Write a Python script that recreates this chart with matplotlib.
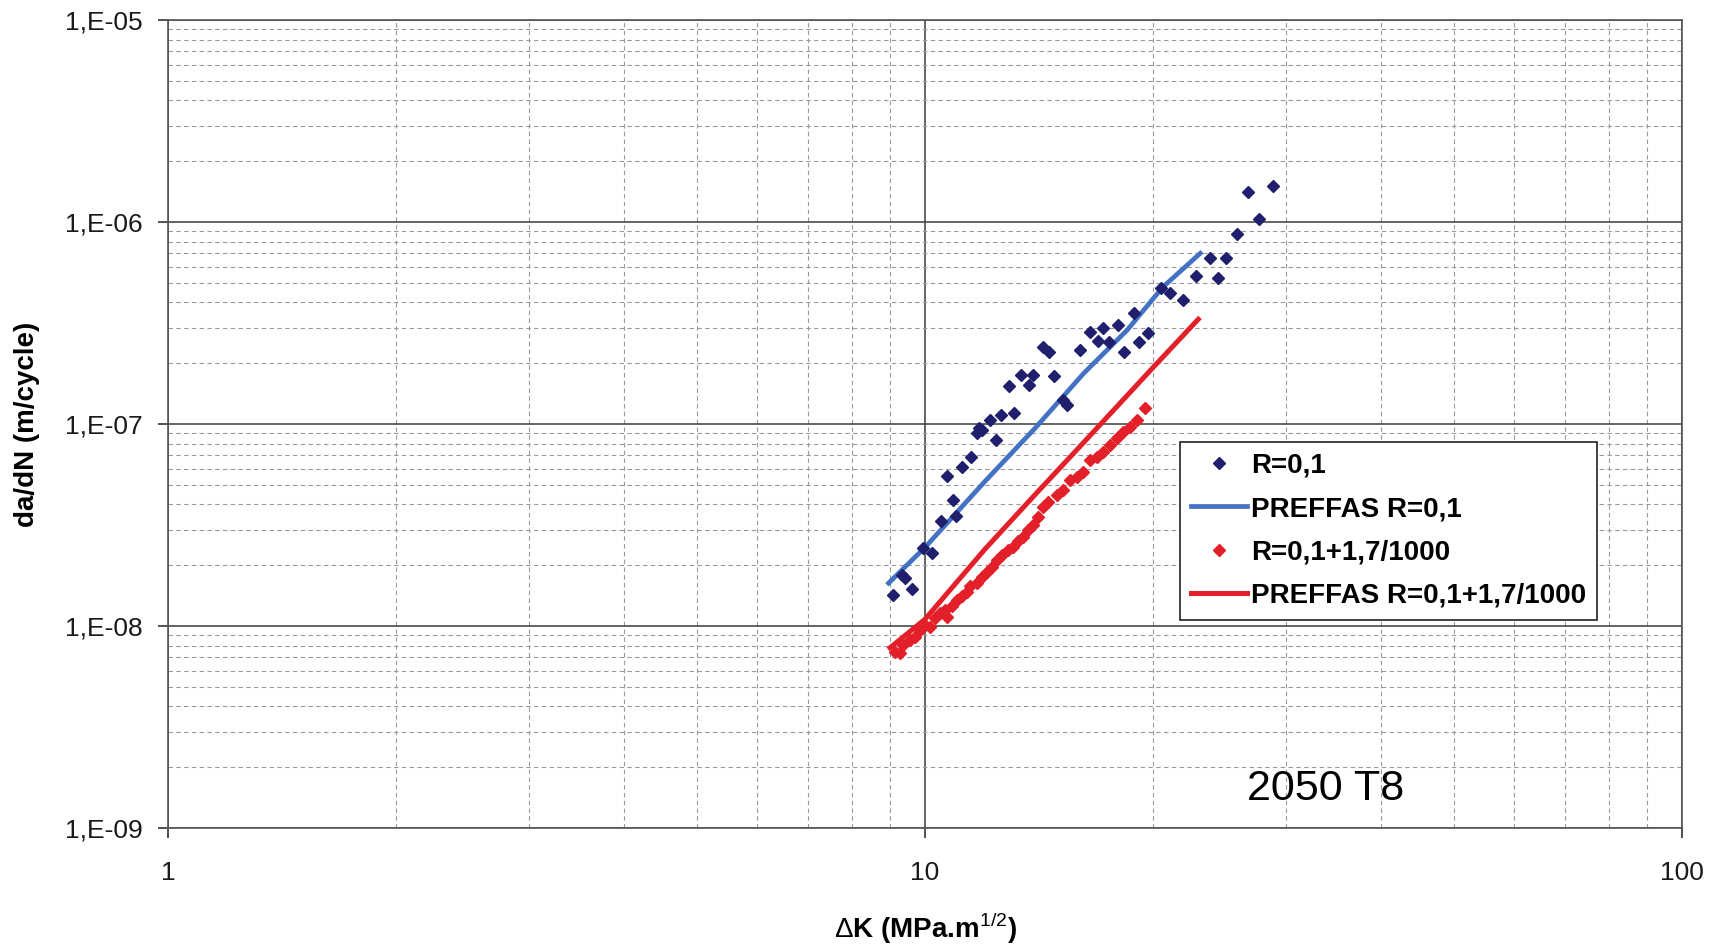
import matplotlib
matplotlib.use("Agg")
import matplotlib.pyplot as plt
from matplotlib.ticker import FixedLocator, FixedFormatter, LogLocator, NullFormatter

plt.rcParams['font.family'] = ['Liberation Sans', 'DejaVu Sans']
plt.rcParams['mathtext.fontset'] = 'custom'
plt.rcParams['mathtext.rm'] = 'Liberation Sans'
plt.rcParams['mathtext.bf'] = 'Liberation Sans:bold'

# crack growth data, R=0,1
dk_r01 = [28.8, 26.7, 27.6, 25.8, 23.8, 25.0, 22.8, 24.4, 20.5, 21.1, 21.9, 18.9,
          18.0, 17.2, 16.5, 16.9, 17.5, 19.7, 19.2, 18.3, 16.0, 14.3, 14.6, 14.8,
          13.4, 13.9, 13.7, 12.9, 15.2, 15.4, 13.1, 12.6, 12.2, 11.8, 11.9, 11.7,
          12.4, 11.5, 11.2, 10.7, 10.9, 10.5, 11.0, 9.95, 10.2, 9.31, 9.41, 9.60, 9.08]
dadn_r01 = [1.51e-6, 1.40e-6, 1.04e-6, 8.7e-7, 6.6e-7, 6.6e-7, 5.4e-7, 5.3e-7, 4.7e-7,
            4.47e-7, 4.1e-7, 3.56e-7, 3.1e-7, 2.98e-7, 2.86e-7, 2.58e-7, 2.56e-7, 2.83e-7,
            2.56e-7, 2.28e-7, 2.32e-7, 2.41e-7, 2.28e-7, 1.73e-7, 1.75e-7, 1.75e-7, 1.56e-7,
            1.54e-7, 1.32e-7, 1.24e-7, 1.14e-7, 1.11e-7, 1.05e-7, 9.5e-8, 9.3e-8, 9.06e-8,
            8.3e-8, 6.9e-8, 6.15e-8, 5.5e-8, 4.2e-8, 3.3e-8, 3.5e-8, 2.43e-8, 2.29e-8,
            1.79e-8, 1.73e-8, 1.53e-8, 1.42e-8]

# PREFFAS model, R=0,1
dk_pref01 = [8.95, 10.0, 12.0, 14.0, 16.2, 18.5, 20.6, 23.1]
dadn_pref01 = [1.63e-8, 2.45e-8, 5.2e-8, 9.6e-8, 1.78e-7, 2.92e-7, 4.75e-7, 7.0e-7]

# crack growth data, R=0,1+1,7/1000
dk_r017 = [9.13, 9.27, 9.36, 9.55, 9.70, 9.85, 10.0, 10.15, 10.31, 10.47, 10.63, 10.68,
           10.84, 11.01, 11.18, 11.35, 11.47, 11.70, 11.88, 12.06, 12.25, 12.43, 12.62,
           12.88, 13.08, 13.28, 13.49, 13.69, 13.90, 14.12, 14.33, 14.55, 14.93, 15.23,
           15.54, 15.86, 16.19, 16.52, 16.86, 17.20, 17.56, 17.92, 18.28, 18.66, 19.04, 19.53]
dadn_r017 = [7.46e-9, 7.32e-9, 8.05e-9, 8.53e-9, 8.86e-9, 9.55e-9, 1.01e-8, 9.93e-9,
             1.09e-8, 1.16e-8, 1.20e-8, 1.11e-8, 1.25e-8, 1.35e-8, 1.40e-8, 1.48e-8,
             1.57e-8, 1.63e-8, 1.75e-8, 1.86e-8, 1.97e-8, 2.12e-8, 2.25e-8, 2.38e-8,
             2.47e-8, 2.62e-8, 2.77e-8, 2.99e-8, 3.16e-8, 3.48e-8, 3.90e-8, 4.13e-8,
             4.45e-8, 4.71e-8, 5.28e-8, 5.48e-8, 5.81e-8, 6.64e-8, 6.89e-8, 7.29e-8,
             7.87e-8, 8.49e-8, 9.17e-8, 9.71e-8, 1.05e-7, 1.20e-7]

# PREFFAS model, R=0,1+1,7/1000
dk_pref017 = [8.99, 10.0, 12.0, 14.0, 16.0, 18.0, 20.0, 22.96]
dadn_pref017 = [7.8e-9, 1.08e-8, 2.4e-8, 4.5e-8, 7.7e-8, 1.24e-7, 1.9e-7, 3.3e-7]

x_ticks = [1, 10, 100]
x_labels = ['1', '10', '100']
y_ticks = [1e-9, 1e-8, 1e-7, 1e-6, 1e-5]
y_labels = ['1,E-09', '1,E-08', '1,E-07', '1,E-06', '1,E-05']

fig = plt.figure(figsize=(17.2, 9.44), dpi=100)
ax = fig.add_axes([0.0977, 0.1229, 0.8802, 0.8559])
ax.set_xscale('log')
ax.set_yscale('log')
ax.set_xlim(1, 100)
ax.set_ylim(1e-9, 1e-5)

ax.plot(dk_r01, dadn_r01, linestyle='none', marker='D', ms=6,
        color='#1f1f6e', label='R=0,1', zorder=4)
ax.plot(dk_pref01, dadn_pref01, color='#4372c4', lw=3.4,
        label='PREFFAS R=0,1', zorder=3)
ax.plot(dk_r017, dadn_r017, linestyle='none', marker='D', ms=6,
        color='#e3202a', label='R=0,1+1,7/1000', zorder=4)
ax.plot(dk_pref017, dadn_pref017, color='#e3202a', lw=3.6,
        label='PREFFAS R=0,1+1,7/1000', zorder=3)

# ticks and grid
ax.xaxis.set_major_locator(FixedLocator(x_ticks))
ax.xaxis.set_major_formatter(FixedFormatter(x_labels))
ax.yaxis.set_major_locator(FixedLocator(y_ticks))
ax.yaxis.set_major_formatter(FixedFormatter(y_labels))
ax.xaxis.set_minor_locator(LogLocator(base=10, subs=range(2, 10)))
ax.yaxis.set_minor_locator(LogLocator(base=10, subs=range(2, 10)))
ax.xaxis.set_minor_formatter(NullFormatter())
ax.yaxis.set_minor_formatter(NullFormatter())
ax.tick_params(which='major', direction='out', length=7, width=1.2,
               color='#333333', labelsize=19, labelcolor='#1a1a1a')
ax.tick_params(axis='x', which='major', pad=17)
ax.tick_params(axis='y', which='major', pad=11)
ax.tick_params(which='minor', length=0)
ax.grid(which='major', color='#3a3a3a', lw=1.1, ls='-')
ax.grid(which='minor', color='#9a9a9a', lw=0.8, ls=(0, (4, 3)))
ax.set_axisbelow(True)
for side in ['left', 'bottom', 'top', 'right']:
    ax.spines[side].set_color('#555555')
    ax.spines[side].set_linewidth(1.2)

ax.set_xlabel(r'$\Delta$K (MPa.m$^{\mathrm{1/2}}$)', fontsize=20, fontweight='bold', labelpad=18)
ax.set_ylabel('da/dN (m/cycle)', fontsize=20, fontweight='bold', labelpad=18)

ax.text(26.6, 1.38e-9, '2050 T8', fontsize=31, va='baseline', ha='left')

leg = ax.legend(loc='upper left', bbox_to_anchor=(0.686, 0.532),
                bbox_transform=fig.transFigure, borderaxespad=0, numpoints=1,
                prop={'size': 20, 'weight': 'bold'}, handlelength=2.0,
                handletextpad=0.15, labelspacing=0.62, borderpad=0.4,
                fancybox=False, framealpha=1, edgecolor='#222222')
leg.get_frame().set_linewidth(1.2)

fig.savefig('out.png', dpi=100)
